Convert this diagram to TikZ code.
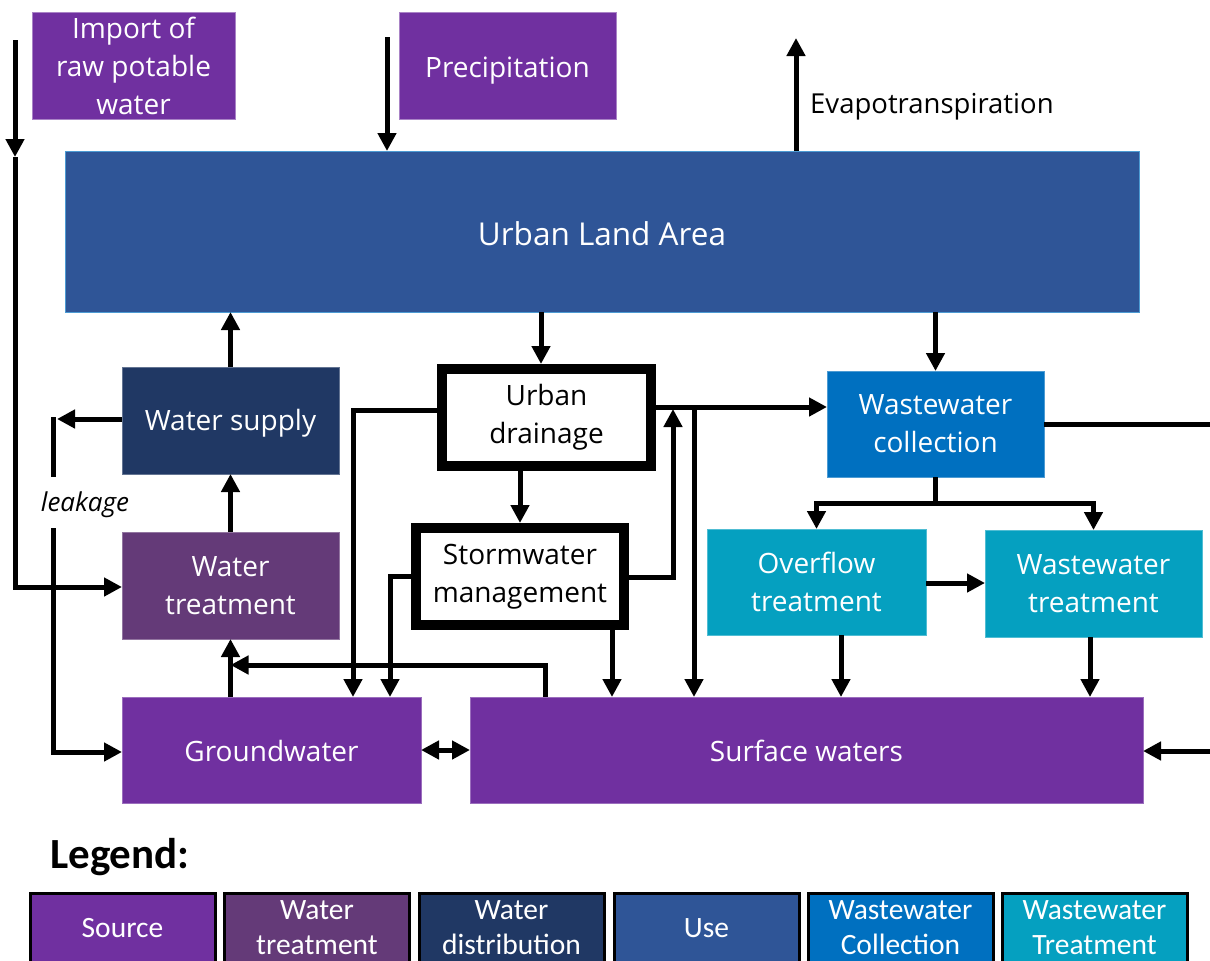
\documentclass[tikz,border=0pt]{standalone}
\usepackage{fontspec}
\setmainfont{Open Sans}
\newfontfamily\lgfont{Carlito}
\usetikzlibrary{arrows.meta,calc}

\definecolor{csource}{HTML}{7030A0}
\definecolor{ctreat}{HTML}{643A78}
\definecolor{cdist}{HTML}{203864}
\definecolor{cuse}{HTML}{2F5597}
\definecolor{cwwc}{HTML}{0070C0}
\definecolor{cwwt}{HTML}{05A0C0}

% lower a single line of text inside its node, keeping the node's size
\newcommand{\lowertext}[2]{\raisebox{-#1}[\height][\depth]{#2}}

\tikzset{
  box/.style={rectangle, inner sep=0pt, outer sep=0pt, align=center, text=white,
              font=\fontsize{28}{38}\selectfont, line width=1pt},
  blk/.style={rectangle, inner sep=0pt, align=center, draw=black, line width=10pt,
              font=\fontsize{28}{38}\selectfont},
  tip/.tip={Triangle[length=18pt,width=18pt]},
  ln/.style={line width=5pt},
  arr/.style={line width=5pt, -tip},
  lgbox/.style={rectangle, inner sep=0pt, align=center, text=white, draw=black,
                line width=3pt, minimum width=185pt, minimum height=70pt,
                font=\lgfont\fontsize{29.5}{35}\selectfont},
}

\begin{document}
\begin{tikzpicture}[x=1pt,y=-1pt]
\useasboundingbox (0,0) rectangle (1210,961);

% ---- boxes ----
\node[box, fill=csource, draw=csource!60!white, minimum width=203pt, minimum height=107pt]
  (imp) at (133.5,66) {Import of\\raw potable\\water};
\node[box, fill=csource, draw=csource!60!white, minimum width=217pt, minimum height=107pt]
  (pre) at (507.5,65.5) {\lowertext{5pt}{Precipitation}};
\node[box, fill=cuse, draw=cwwc!70!white, minimum width=1074pt, minimum height=161pt,
      font=\fontsize{31.5}{38}\selectfont]
  (ula) at (602,231.5) {\lowertext{2pt}{Urban Land Area}};
\node[box, fill=cdist, draw=cdist!70!white, minimum width=217pt, minimum height=107pt]
  (ws) at (230.5,420.5) {\lowertext{3pt}{Water supply}};
\node[box, fill=ctreat, draw=ctreat!70!white, minimum width=217pt, minimum height=107pt]
  (wt) at (230.5,585.5) {Water\\treatment};
\node[box, fill=csource, draw=csource!70!white, minimum width=299pt, minimum height=106pt]
  (gw) at (271.5,750) {\lowertext{1pt}{Groundwater}};
\node[box, fill=csource, draw=csource!70!white, minimum width=673pt, minimum height=106pt]
  (sw) at (806.5,750) {\lowertext{1pt}{Surface waters}};
\node[blk, minimum width=209pt, minimum height=97pt]
  (ud) at (546.5,417.5) {Urban\\drainage};
\node[blk, minimum width=208pt, minimum height=97pt]
  (sm) at (520,576.5) {Stormwater\\management};
\node[box, fill=cwwc, draw=cwwc!70!white, minimum width=217pt, minimum height=106pt]
  (wc) at (935.5,424) {Wastewater\\collection};
\node[box, fill=cwwt, draw=cwwt!70!white, minimum width=219pt, minimum height=106pt]
  (ot) at (816.5,582) {Overflow\\treatment};
\node[box, fill=cwwt, draw=cwwt!70!white, minimum width=217pt, minimum height=107pt]
  (wwt) at (1093.5,583.5) {Wastewater\\treatment};

% ---- labels ----
\node[anchor=west, inner sep=0pt, font=\fontsize{27.5}{30}\selectfont]
  (evl) at (810,107) {Evapotranspiration};
\node[inner sep=0pt, font=\itshape\fontsize{26}{28}\selectfont]
  (lkl) at (85,505) {leakage};

% ---- free ends ----
\coordinate (in0) at (15,40);
\coordinate (in1) at (15,157);
\coordinate (p0) at (387,37);
\coordinate (ev) at (796,38);
\coordinate (lk0) at (57,419);
\coordinate (lk1) at (53,417);
\coordinate (lk2) at (53,477);
\coordinate (lk3) at (53,528);
\coordinate (j1) at (673,409);
\coordinate (j2) at (694,407);
\coordinate (j3) at (935.5,503);
\coordinate (r1) at (1215,424);
\coordinate (r2) at (1215,751);

% ---- connectors ----
\draw[arr] (in0) -- (in1);
\draw[arr] (in1) |- (wt.west |- 0,587);
\draw[arr] (p0) -- (p0 |- ula.north);
\draw[arr] (ev |- ula.north) -- (ev);
\draw[arr] (ws.north) -- (ws.north |- ula.south);
\draw[arr] (wt.north) -- (ws.south);
\draw[arr] (ws.west |- lk0) -- (lk0);
\draw[ln] (lk1) -- (lk2);
\draw[arr] (lk3) |- (gw.west |- 0,752);
\draw[arr] (wt.south |- gw.north) -- (wt.south);
\draw[arr] (sw.north -| 545,0) |- (wt.south |- 0,665);
\draw[arr] (ud.west |- 0,410) -| (gw.north -| 353,0);
\draw[arr] (sm.west |- 0,576) -| (gw.north -| 390,0);
\draw[arr] (sm.south -| 612,0) -- (sw.north -| 612,0);
\draw[arr] (sm.east |- 0,577) -| (j1);
\draw[arr] (ud.east |- j2) -- (wc.west |- j2);
\draw[arr] (j2) -- (sw.north -| j2);
\draw[arr] (ula.south -| 541,0) -- (ud.north -| 541,0);
\draw[arr] (ula.south -| wc.north) -- (wc.north);
\draw[arr] (ud.south -| sm.north) -- (sm.north);
\draw[ln] (wc.south) -- (j3);
\draw[arr] (j3) -| (ot.north);
\draw[arr] (j3) -| (wwt.north);
\draw[arr] (ot.east |- 0,583) -- (wwt.west |- 0,583);
\draw[arr] (ot.south -| 841,0) -- (sw.north -| 841,0);
\draw[arr] (wwt.south -| 1090,0) -- (sw.north -| 1090,0);
\draw[ln] (wc.east) -- (r1);
\draw[arr] (r2) -- (sw.east |- r2);
\draw[line width=5pt, tip-tip] (gw.east) -- (sw.west);

% ---- legend ----
\node[anchor=west, inner sep=0pt, font=\lgfont\bfseries\fontsize{43}{46}\selectfont]
  (lgt) at (50,857) {Legend:};
\node[lgbox, fill=csource] (lg1) at (122.5,928) {Source};
\node[lgbox, fill=ctreat]  (lg2) at (317,928) {Water\\treatment};
\node[lgbox, fill=cdist]   (lg3) at (511.5,928) {Water\\distribution};
\node[lgbox, fill=cuse]    (lg4) at (706.5,928) {Use};
\node[lgbox, fill=cwwc]    (lg5) at (900.5,928) {Wastewater\\Collection};
\node[lgbox, fill=cwwt]    (lg6) at (1094.5,928) {Wastewater\\Treatment};
\end{tikzpicture}
\end{document}
